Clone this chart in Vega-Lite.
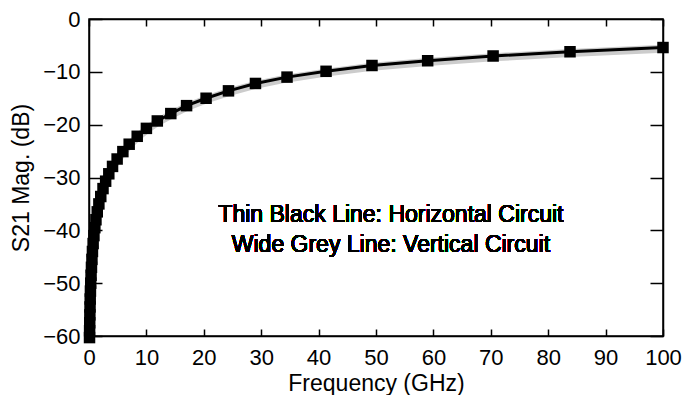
{
  "$schema": "https://vega.github.io/schema/vega-lite/v6.json",
  "width": 574,
  "height": 317,
  "autosize": "none",
  "padding": {"left": 89, "top": 19, "right": 24, "bottom": 59},
  "background": "white",
  "config": {
    "view": {"stroke": "black", "strokeWidth": 1.5},
    "font": "Liberation Sans",
    "axis": {
      "grid": false,
      "domainColor": "black",
      "domainWidth": 1.5,
      "tickColor": "black",
      "tickWidth": 1.5,
      "labelFont": "Liberation Sans",
      "titleFont": "Liberation Sans",
      "labelFontSize": 22,
      "titleFontSize": 23,
      "labelColor": "black",
      "titleColor": "black",
      "titleFontWeight": "normal"
    }
  },
  "data": {
    "values": [
      {"f": 100, "h": -5.4, "v": -5.65},
      {"f": 83.8, "h": -6.2, "v": -6.45},
      {"f": 70.4, "h": -7.0, "v": -7.25},
      {"f": 59.0, "h": -7.9, "v": -8.15},
      {"f": 49.3, "h": -8.8, "v": -9.05},
      {"f": 41.3, "h": -9.9, "v": -10.15},
      {"f": 34.5, "h": -11.0, "v": -11.25},
      {"f": 29.0, "h": -12.2, "v": -12.45},
      {"f": 24.3, "h": -13.6, "v": -13.85},
      {"f": 20.4, "h": -15.0, "v": -15.25},
      {"f": 17.0, "h": -16.4, "v": -16.65},
      {"f": 14.25, "h": -17.9, "v": -18.15},
      {"f": 11.9, "h": -19.3, "v": -19.55},
      {"f": 10.0, "h": -20.7, "v": -20.95},
      {"f": 8.4, "h": -22.2, "v": -22.4},
      {"f": 7.0, "h": -23.7, "v": -23.9},
      {"f": 5.9, "h": -25.1, "v": -25.3},
      {"f": 4.9, "h": -26.5, "v": -26.7},
      {"f": 4.1, "h": -27.9, "v": -28.1},
      {"f": 3.45, "h": -29.3, "v": -29.5},
      {"f": 2.9, "h": -30.7, "v": -30.9},
      {"f": 2.44, "h": -32.1, "v": -32.3},
      {"f": 2.05, "h": -33.6, "v": -33.8},
      {"f": 1.72, "h": -35.0, "v": -35.2},
      {"f": 1.44, "h": -36.5, "v": -36.7},
      {"f": 1.21, "h": -38.0, "v": -38.2},
      {"f": 1.02, "h": -39.5, "v": -39.7},
      {"f": 0.86, "h": -41.0, "v": -41.2},
      {"f": 0.72, "h": -42.5, "v": -42.7},
      {"f": 0.60, "h": -44.0, "v": -44.2},
      {"f": 0.51, "h": -45.5, "v": -45.7},
      {"f": 0.43, "h": -47.0, "v": -47.2},
      {"f": 0.36, "h": -48.5, "v": -48.7},
      {"f": 0.30, "h": -50.0, "v": -50.2},
      {"f": 0.25, "h": -51.5, "v": -51.7},
      {"f": 0.21, "h": -53.0, "v": -53.2},
      {"f": 0.18, "h": -54.5, "v": -54.7},
      {"f": 0.15, "h": -56.0, "v": -56.2},
      {"f": 0.126, "h": -57.5, "v": -57.7},
      {"f": 0.106, "h": -59.0, "v": -59.2},
      {"f": 0.09, "h": -60.3, "v": -60.4}
    ]
  },
  "layer": [
    {
      "mark": {"type": "line", "color": "#cccccc", "strokeWidth": 8},
      "encoding": {
        "x": {
          "field": "f", "type": "quantitative",
          "scale": {"domain": [0, 100], "nice": false, "zero": false},
          "axis": {"title": "Frequency (GHz)", "values": [0,10,20,30,40,50,60,70,80,90,100], "tickSize": -7, "labelPadding": 18, "titlePadding": 4, "labelFlush": false}
        },
        "y": {
          "field": "v", "type": "quantitative",
          "scale": {"domain": [-60, 0], "nice": false, "zero": false},
          "axis": {"title": "S21 Mag. (dB)", "values": [-60,-50,-40,-30,-20,-10,0], "tickSize": -13, "labelPadding": 22, "titlePadding": 9, "labelFlush": false}
        }
      }
    },
    {
      "mark": {"type": "line", "color": "black", "strokeWidth": 3, "point": {"shape": "square", "size": 132, "filled": true, "color": "black", "opacity": 1}},
      "encoding": {
        "x": {
          "field": "f", "type": "quantitative",
          "axis": {"orient": "top", "title": null, "labels": false, "values": [0,10,20,30,40,50,60,70,80,90,100], "tickSize": -7}
        },
        "y": {
          "field": "h", "type": "quantitative",
          "axis": {"orient": "right", "title": null, "labels": false, "values": [-60,-50,-40,-30,-20,-10,0], "tickSize": -13}
        }
      }
    },
    {
      "mark": {"type": "text", "font": "Liberation Sans", "fontSize": 23, "align": "center", "baseline": "alphabetic", "color": "black"},
      "encoding": {
        "x": {"datum": 52.6, "type": "quantitative", "axis": null},
        "y": {"datum": -38.4, "type": "quantitative", "axis": null},
        "text": {"value": "Thin Black Line: Horizontal Circuit"}
      }
    },
    {
      "mark": {"type": "text", "font": "Liberation Sans", "fontSize": 23, "align": "center", "baseline": "alphabetic", "color": "black"},
      "encoding": {
        "x": {"datum": 52.6, "type": "quantitative", "axis": null},
        "y": {"datum": -44.1, "type": "quantitative", "axis": null},
        "text": {"value": "Wide Grey Line: Vertical Circuit"}
      }
    }
  ],
  "resolve": {"axis": {"x": "independent", "y": "independent"}}
}
